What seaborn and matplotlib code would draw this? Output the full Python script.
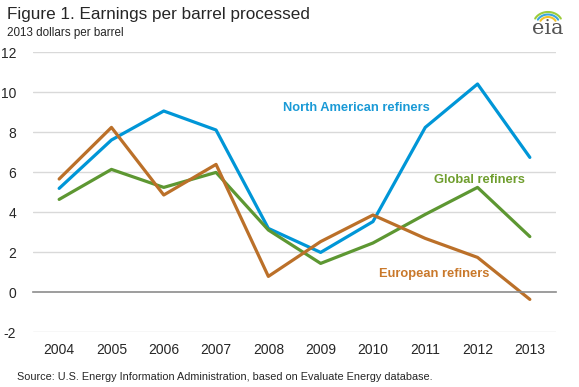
import numpy as np
import pandas as pd
import matplotlib
matplotlib.use("Agg")
import matplotlib.pyplot as plt
import seaborn as sns

# data
years = ["2004", "2005", "2006", "2007", "2008", "2009", "2010", "2011", "2012", "2013"]
north_american = [5.18, 7.6, 9.05, 8.1, 3.18, 1.98, 3.52, 8.23, 10.4, 6.73]
global_refiners = [4.63, 6.13, 5.23, 5.98, 3.1, 1.43, 2.45, 3.88, 5.23, 2.77]
european = [5.65, 8.23, 4.85, 6.38, 0.78, 2.52, 3.85, 2.68, 1.73, -0.37]

series_names = ["North American refiners", "Global refiners", "European refiners"]
line_colors = ["#0096d7", "#5d9732", "#bb7029"]
label_colors = ["#1a9ad6", "#6f9e2e", "#c9782a"]

df = pd.DataFrame({
    "year": years * 3,
    "value": north_american + global_refiners + european,
    "series": np.repeat(series_names, len(years)),
})

sns.set_style("white")
plt.rcParams["font.family"] = ["Liberation Sans", "DejaVu Sans"]

fig = plt.figure(figsize=(5.79, 3.87), dpi=100)
ax = fig.add_axes([33 / 579, 1 - 332 / 387, 523 / 579, 280 / 387])

sns.lineplot(data=df, x="year", y="value", hue="series", palette=line_colors,
             hue_order=series_names, linewidth=2.3, legend=False, ax=ax)

ax.set_xlim(-0.5, len(years) - 0.5)
ax.set_ylim(-2, 12)
yt = np.arange(-2, 13, 2)
ax.set_yticks(yt)
ax.set_yticklabels([str(v) for v in yt], fontsize=10)
for v in yt:
    if v != 0:
        ax.axhline(v, color="#d9d9d9", lw=1, zorder=0)

for s in ["top", "right", "left"]:
    ax.spines[s].set_visible(False)
ax.spines["bottom"].set_position(("data", 0))
ax.spines["bottom"].set_color("#8c8c8c")
ax.spines["bottom"].set_linewidth(1.2)

ax.set_xticks(range(len(years)))
ax.set_xticklabels(years, fontsize=10)
ax.set_xticks(np.arange(-0.5, len(years), 1), minor=True)
ax.tick_params(axis="x", which="major", length=0, pad=37)
ax.tick_params(axis="x", which="minor", length=4, width=1, color="#8c8c8c", direction="out")
ax.tick_params(axis="y", length=0, pad=12)
ax.set_xlabel("")
ax.set_ylabel("")

# series labels
ax.text(5.69, 9.2, "North American refiners", color=label_colors[0],
        fontsize=9.3, fontweight="bold", ha="center", va="center")
ax.text(8.04, 5.6, "Global refiners", color=label_colors[1],
        fontsize=9.3, fontweight="bold", ha="center", va="center")
ax.text(7.17, 0.9, "European refiners", color=label_colors[2],
        fontsize=9.3, fontweight="bold", ha="center", va="center")

# titles and source
fig.text(7 / 579, 1 - 15 / 387, "Figure 1. Earnings per barrel processed",
         fontsize=12.3, ha="left", va="center")
fig.text(7 / 579, 1 - 33 / 387, "2013 dollars per barrel",
         fontsize=8.4, ha="left", va="center")
fig.text(17 / 579, 1 - 377 / 387,
         "Source: U.S. Energy Information Administration, based on Evaluate Energy database.",
         fontsize=7.85, ha="left", va="center")

# eia mark
fig.text(548 / 579, 1 - 28 / 387, "eia", fontsize=15, family="DejaVu Serif",
         color="#555555", ha="center", va="center")
arc_t = np.linspace(0.15, 0.85, 30)
for i, c in enumerate(["#9ccc3b", "#3aa6dd", "#f2c12e"]):
    r = 12 - i * 2.5
    xs = 548 + r * np.cos(np.pi * arc_t) * 1.2
    ys = 1 - (24 - r * np.sin(np.pi * arc_t)) / 387
    ax_line = plt.Line2D((xs) / 579, ys, transform=fig.transFigure, color=c, lw=1.5)
    fig.add_artist(ax_line)

fig.savefig("out.png", dpi=100)
